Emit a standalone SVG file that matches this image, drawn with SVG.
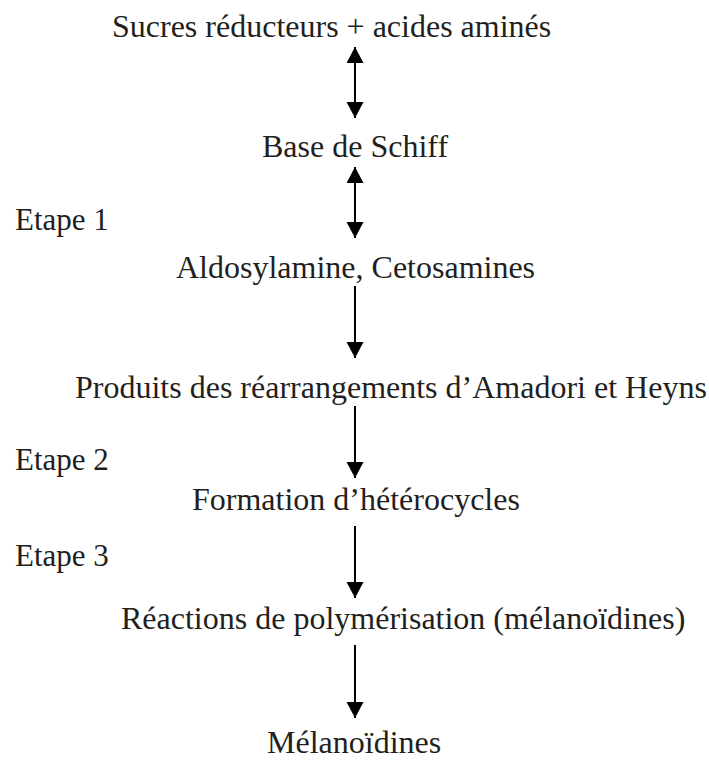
<svg xmlns="http://www.w3.org/2000/svg" width="709" height="761" viewBox="0 0 709 761">
<style>
text{font-family:"Liberation Serif","Times New Roman",serif;font-size:32px;fill:#231f20}
.lbl{font-size:31px}
.c{stroke:#000;stroke-width:2;fill:none}
</style>
<defs>
<marker id="ah" markerUnits="userSpaceOnUse" markerWidth="18" markerHeight="18" viewBox="0 0 16 18" refX="16" refY="8.5" orient="auto-start-reverse">
<path d="M0,0 L16,8.5 L0,17 Z" fill="#000"/>
</marker>
</defs>
<rect width="709" height="761" fill="#fff"/>
<g id="n1"><text x="112" y="37">Sucres réducteurs + acides aminés</text></g>
<g id="n2"><text x="262" y="157">Base de Schiff</text></g>
<g id="n3"><text x="176" y="278">Aldosylamine, Cetosamines</text></g>
<g id="n4"><text x="75" y="398">Produits des réarrangements d’Amadori et Heyns</text></g>
<g id="n5"><text x="192" y="510">Formation d’hétérocycles</text></g>
<g id="n6"><text x="121" y="629">Réactions de polymérisation (mélanoïdines)</text></g>
<g id="n7"><text x="267" y="753">Mélanoïdines</text></g>
<g id="labels">
<text class="lbl" x="15" y="230">Etape 1</text>
<text class="lbl" x="15" y="470">Etape 2</text>
<text class="lbl" x="15" y="566">Etape 3</text>
</g>
<g id="connectors">
<line class="c" x1="355" y1="47" x2="355" y2="118" marker-start="url(#ah)" marker-end="url(#ah)"/>
<line class="c" x1="355" y1="167" x2="355" y2="238" marker-start="url(#ah)" marker-end="url(#ah)"/>
<line class="c" x1="355" y1="286" x2="355" y2="358" marker-end="url(#ah)"/>
<line class="c" x1="355" y1="406" x2="355" y2="478" marker-end="url(#ah)"/>
<line class="c" x1="355" y1="526" x2="355" y2="598" marker-end="url(#ah)"/>
<line class="c" x1="355" y1="645" x2="355" y2="718" marker-end="url(#ah)"/>
</g>
</svg>
